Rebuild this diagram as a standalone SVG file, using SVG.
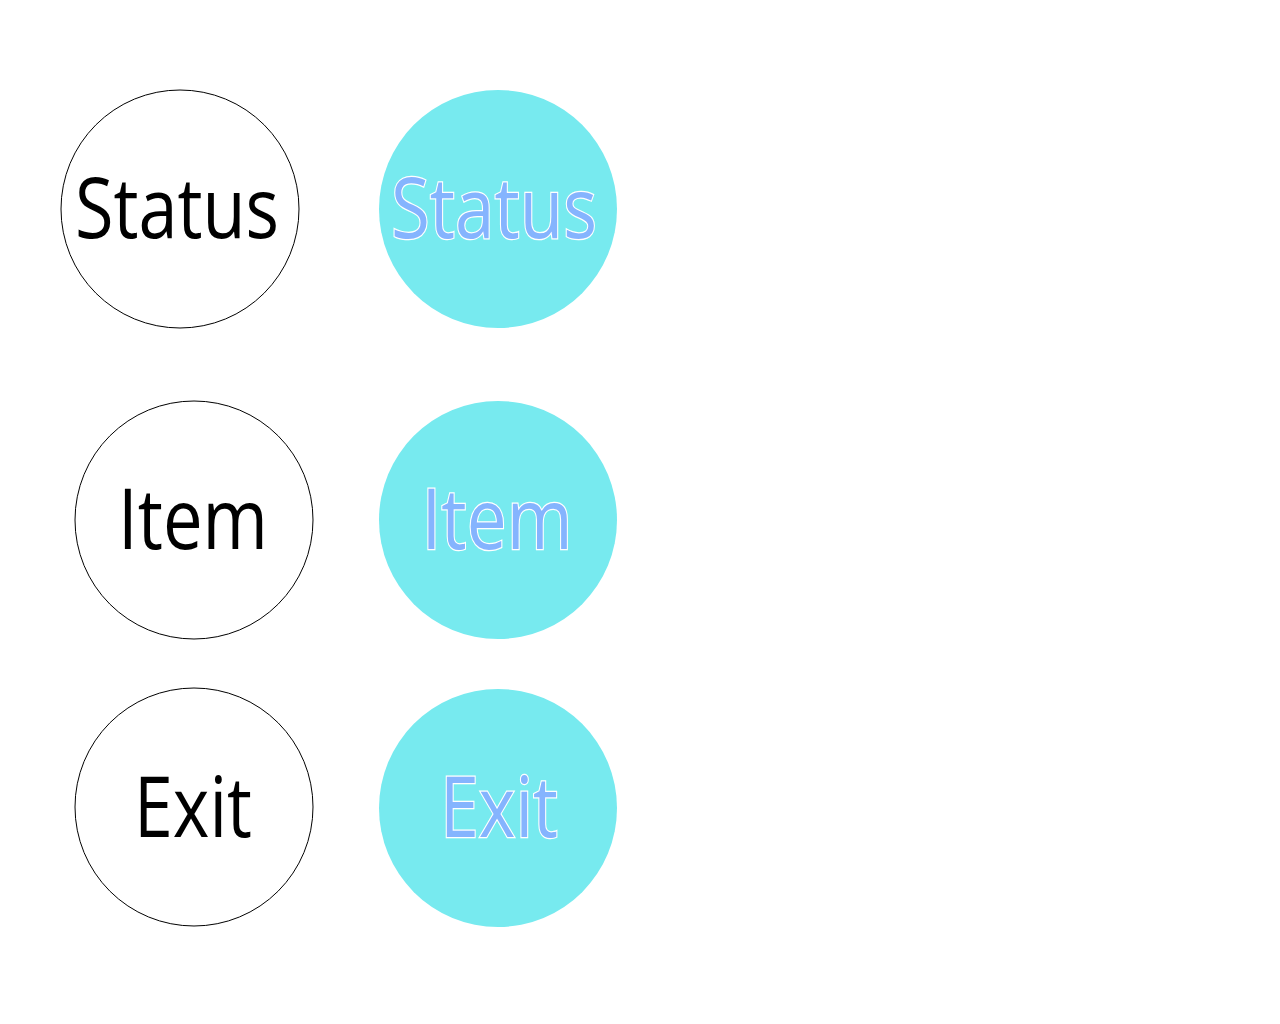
<svg xmlns="http://www.w3.org/2000/svg" width="1280" height="1024" viewBox="0 0 1280 1024">
<style>
.o{fill:#ffffff;stroke:#000000;stroke-width:1}
.f{fill:#77eaef;stroke:none}
.t{font-family:"Open Sans","Noto Sans",sans-serif;font-size:84px;text-anchor:middle}
.tb{fill:#000000}
.tc{fill:#85b4fe;stroke:#ffffff;stroke-width:2.5;paint-order:stroke}
</style>
<rect width="1280" height="1024" fill="#ffffff"/>
<g id="connectors"></g>
<g id="status-outline"><circle class="o" cx="180" cy="209" r="119"/><text class="t tb" x="177" y="238" textLength="204" lengthAdjust="spacingAndGlyphs">Status</text></g>
<g id="item-outline"><circle class="o" cx="194" cy="520" r="119"/><text class="t tb" x="193" y="549" textLength="150" lengthAdjust="spacingAndGlyphs">Item</text></g>
<g id="exit-outline"><circle class="o" cx="194" cy="807" r="119"/><text class="t tb" x="193" y="837" textLength="118" lengthAdjust="spacingAndGlyphs">Exit</text></g>
<g id="status-filled"><circle class="f" cx="498" cy="209" r="119"/><text class="t tc" x="494" y="238" textLength="206" lengthAdjust="spacingAndGlyphs">Status</text></g>
<g id="item-filled"><circle class="f" cx="498" cy="520" r="119"/><text class="t tc" x="497" y="549" textLength="151" lengthAdjust="spacingAndGlyphs">Item</text></g>
<g id="exit-filled"><circle class="f" cx="498" cy="808" r="119"/><text class="t tc" x="499" y="837" textLength="118" lengthAdjust="spacingAndGlyphs">Exit</text></g>
</svg>
